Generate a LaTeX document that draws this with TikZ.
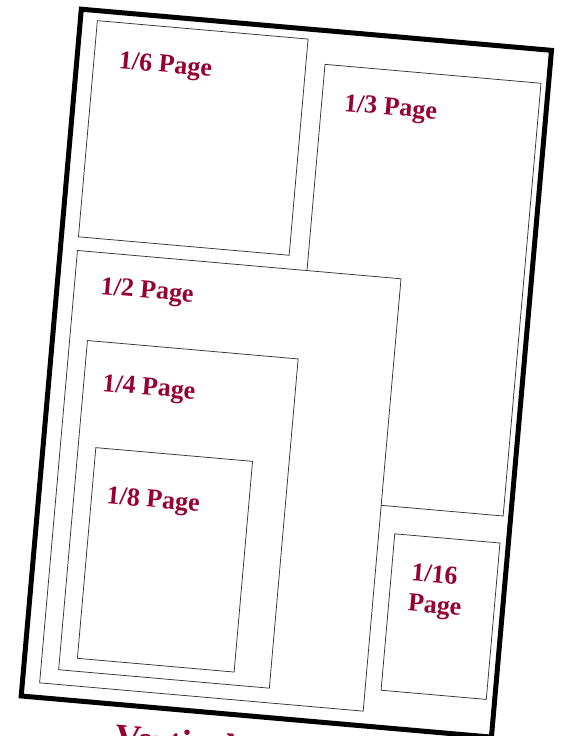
\documentclass[tikz,border=0pt]{standalone}
\usepackage{fontspec}
\setmainfont{Liberation Serif}
\definecolor{lblred}{RGB}{150,0,52}
\begin{document}
\begin{tikzpicture}[x=1pt,y=1pt,
  adbox/.style={draw=black!80, line width=0.75pt, fill=white, inner sep=0pt, outer sep=0pt, anchor=north west},
  lbl/.style={text=lblred, font=\fontsize{26}{30}\selectfont\bfseries, anchor=base west, inner sep=0pt},
  frame/.style={line width=5pt, line join=miter}]
\clip (0,0) rectangle (560,-736);
\fill[white] (0,0) rectangle (560,-736);
\begin{scope}[shift={(81.3,-9.2)}, rotate=-5, y=-1pt, transform shape]
  \node[draw, frame, inner sep=0pt, outer sep=0pt, anchor=north west, minimum width=472pt, minimum height=689.4pt] (page) at (0,0) {};
  \node[adbox, minimum width=211.5pt, minimum height=217pt] (b6) at (17,10) {};
  \node[adbox, minimum width=216.8pt, minimum height=434.4pt] (b3) at (247.6,33.7) {};
  \node[adbox, minimum width=324.8pt, minimum height=434pt] (b2) at (17.2,240.7) {};
  \node[adbox, minimum width=211.5pt, minimum height=330.5pt] (b4) at (35,329.5) {};
  \node[adbox, minimum width=157.3pt, minimum height=211.5pt] (b8) at (52.7,435.5) {};
  \node[adbox, minimum width=105.6pt, minimum height=157pt] (b16) at (358,495.3) {};
  \node[lbl] (t6) at (42,55.7) {1/6 Page};
  \node[lbl] (t3) at (269.9,78.6) {1/3 Page};
  \node[lbl] (t2) at (43.4,282.1) {1/2 Page};
  \node[lbl] (t4) at (53.6,378.6) {1/4 Page};
  \node[lbl] (t8) at (67.7,490) {1/8 Page};
  \node[lbl] (t16a) at (377.9,540.6) {1/16};
  \node[lbl] (t16b) at (377.2,570.8) {Page};
  \node[lbl, font=\fontsize{36}{40}\selectfont\bfseries] (title) at (97,733.8) {Vertical};
\end{scope}
\end{tikzpicture}
\end{document}
